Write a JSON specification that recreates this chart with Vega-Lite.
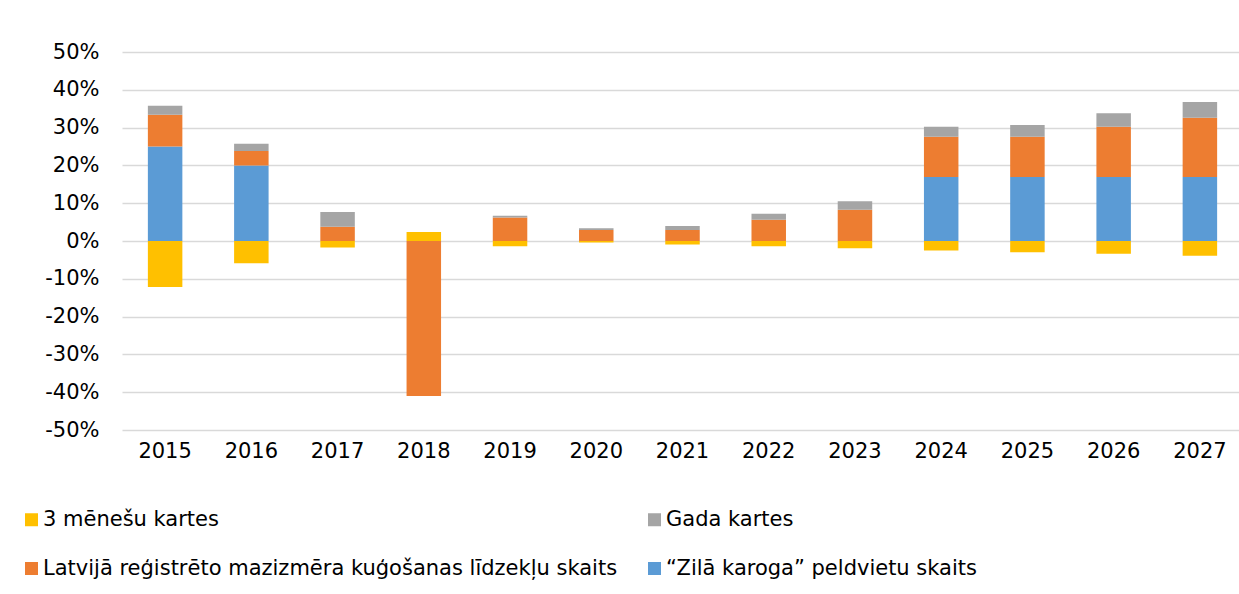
{
  "$schema": "https://vega.github.io/schema/vega-lite/v6.json",
  "width": 1121,
  "height": 378,
  "autosize": {"type": "none"},
  "padding": {"left": 122, "top": 52, "right": 0, "bottom": 164},
  "background": "white",
  "config": {
    "view": {"stroke": null},
    "font": "DejaVu Sans"
  },
  "data": {
    "values": [
      {"year": "2015", "series": "3 mēnešu kartes", "o": 1, "v": -0.122},
      {"year": "2015", "series": "“Zilā karoga” peldvietu skaits", "o": 2, "v": 0.250},
      {"year": "2015", "series": "Latvijā reģistrēto mazizmēra kuģošanas līdzekļu skaits", "o": 3, "v": 0.084},
      {"year": "2015", "series": "Gada kartes", "o": 4, "v": 0.024},
      {"year": "2016", "series": "3 mēnešu kartes", "o": 1, "v": -0.059},
      {"year": "2016", "series": "“Zilā karoga” peldvietu skaits", "o": 2, "v": 0.200},
      {"year": "2016", "series": "Latvijā reģistrēto mazizmēra kuģošanas līdzekļu skaits", "o": 3, "v": 0.038},
      {"year": "2016", "series": "Gada kartes", "o": 4, "v": 0.019},
      {"year": "2017", "series": "3 mēnešu kartes", "o": 1, "v": -0.017},
      {"year": "2017", "series": "“Zilā karoga” peldvietu skaits", "o": 2, "v": 0},
      {"year": "2017", "series": "Latvijā reģistrēto mazizmēra kuģošanas līdzekļu skaits", "o": 3, "v": 0.038},
      {"year": "2017", "series": "Gada kartes", "o": 4, "v": 0.039},
      {"year": "2018", "series": "3 mēnešu kartes", "o": 1, "v": 0.024},
      {"year": "2018", "series": "“Zilā karoga” peldvietu skaits", "o": 2, "v": 0},
      {"year": "2018", "series": "Latvijā reģistrēto mazizmēra kuģošanas līdzekļu skaits", "o": 3, "v": -0.410},
      {"year": "2018", "series": "Gada kartes", "o": 4, "v": 0},
      {"year": "2019", "series": "3 mēnešu kartes", "o": 1, "v": -0.014},
      {"year": "2019", "series": "“Zilā karoga” peldvietu skaits", "o": 2, "v": 0},
      {"year": "2019", "series": "Latvijā reģistrēto mazizmēra kuģošanas līdzekļu skaits", "o": 3, "v": 0.062},
      {"year": "2019", "series": "Gada kartes", "o": 4, "v": 0.005},
      {"year": "2020", "series": "3 mēnešu kartes", "o": 1, "v": -0.004},
      {"year": "2020", "series": "“Zilā karoga” peldvietu skaits", "o": 2, "v": 0},
      {"year": "2020", "series": "Latvijā reģistrēto mazizmēra kuģošanas līdzekļu skaits", "o": 3, "v": 0.029},
      {"year": "2020", "series": "Gada kartes", "o": 4, "v": 0.005},
      {"year": "2021", "series": "3 mēnešu kartes", "o": 1, "v": -0.009},
      {"year": "2021", "series": "“Zilā karoga” peldvietu skaits", "o": 2, "v": 0},
      {"year": "2021", "series": "Latvijā reģistrēto mazizmēra kuģošanas līdzekļu skaits", "o": 3, "v": 0.029},
      {"year": "2021", "series": "Gada kartes", "o": 4, "v": 0.011},
      {"year": "2022", "series": "3 mēnešu kartes", "o": 1, "v": -0.014},
      {"year": "2022", "series": "“Zilā karoga” peldvietu skaits", "o": 2, "v": 0},
      {"year": "2022", "series": "Latvijā reģistrēto mazizmēra kuģošanas līdzekļu skaits", "o": 3, "v": 0.056},
      {"year": "2022", "series": "Gada kartes", "o": 4, "v": 0.016},
      {"year": "2023", "series": "3 mēnešu kartes", "o": 1, "v": -0.019},
      {"year": "2023", "series": "“Zilā karoga” peldvietu skaits", "o": 2, "v": 0},
      {"year": "2023", "series": "Latvijā reģistrēto mazizmēra kuģošanas līdzekļu skaits", "o": 3, "v": 0.083},
      {"year": "2023", "series": "Gada kartes", "o": 4, "v": 0.022},
      {"year": "2024", "series": "3 mēnešu kartes", "o": 1, "v": -0.025},
      {"year": "2024", "series": "“Zilā karoga” peldvietu skaits", "o": 2, "v": 0.169},
      {"year": "2024", "series": "Latvijā reģistrēto mazizmēra kuģošanas līdzekļu skaits", "o": 3, "v": 0.107},
      {"year": "2024", "series": "Gada kartes", "o": 4, "v": 0.026},
      {"year": "2025", "series": "3 mēnešu kartes", "o": 1, "v": -0.030},
      {"year": "2025", "series": "“Zilā karoga” peldvietu skaits", "o": 2, "v": 0.169},
      {"year": "2025", "series": "Latvijā reģistrēto mazizmēra kuģošanas līdzekļu skaits", "o": 3, "v": 0.107},
      {"year": "2025", "series": "Gada kartes", "o": 4, "v": 0.031},
      {"year": "2026", "series": "3 mēnešu kartes", "o": 1, "v": -0.034},
      {"year": "2026", "series": "“Zilā karoga” peldvietu skaits", "o": 2, "v": 0.169},
      {"year": "2026", "series": "Latvijā reģistrēto mazizmēra kuģošanas līdzekļu skaits", "o": 3, "v": 0.133},
      {"year": "2026", "series": "Gada kartes", "o": 4, "v": 0.036},
      {"year": "2027", "series": "3 mēnešu kartes", "o": 1, "v": -0.039},
      {"year": "2027", "series": "“Zilā karoga” peldvietu skaits", "o": 2, "v": 0.169},
      {"year": "2027", "series": "Latvijā reģistrēto mazizmēra kuģošanas līdzekļu skaits", "o": 3, "v": 0.157},
      {"year": "2027", "series": "Gada kartes", "o": 4, "v": 0.042}
    ]
  },
  "mark": {"type": "bar"},
  "encoding": {
    "x": {
      "field": "year", "type": "ordinal", "title": null,
      "scale": {"paddingInner": 0.6, "paddingOuter": 0.3},
      "axis": {"labelAngle": 0, "ticks": false, "domain": false, "labelFontSize": 21, "labelColor": "#000000", "labelPadding": 10, "grid": false}
    },
    "y": {
      "field": "v", "type": "quantitative", "title": null, "stack": "zero",
      "scale": {"domain": [-0.5, 0.5], "nice": false},
      "axis": {"format": ".0%", "labelExpr": "replace(datum.label, '−', '-')", "values": [-0.5, -0.4, -0.3, -0.2, -0.1, 0, 0.1, 0.2, 0.3, 0.4, 0.5], "ticks": false, "domain": false, "labelFontSize": 21, "labelColor": "#000000", "labelPadding": 23, "gridColor": "#d9d9d9", "gridWidth": 1.5}
    },
    "color": {
      "field": "series", "type": "nominal", "title": null,
      "scale": {
        "domain": ["3 mēnešu kartes", "Gada kartes", "Latvijā reģistrēto mazizmēra kuģošanas līdzekļu skaits", "“Zilā karoga” peldvietu skaits"],
        "range": ["#FFC000", "#A5A5A5", "#ED7D31", "#5B9BD5"]
      },
      "legend": {
        "orient": "none", "legendX": -101, "legendY": 457, "columns": 2, "direction": "horizontal",
        "symbolType": "square", "symbolSize": 169, "symbolStrokeWidth": 0, "labelFontSize": 21, "labelColor": "#000000",
        "labelOffset": 1, "rowPadding": 27, "columnPadding": 26, "labelLimit": 800
      }
    },
    "order": {"field": "o", "type": "quantitative"}
  }
}
